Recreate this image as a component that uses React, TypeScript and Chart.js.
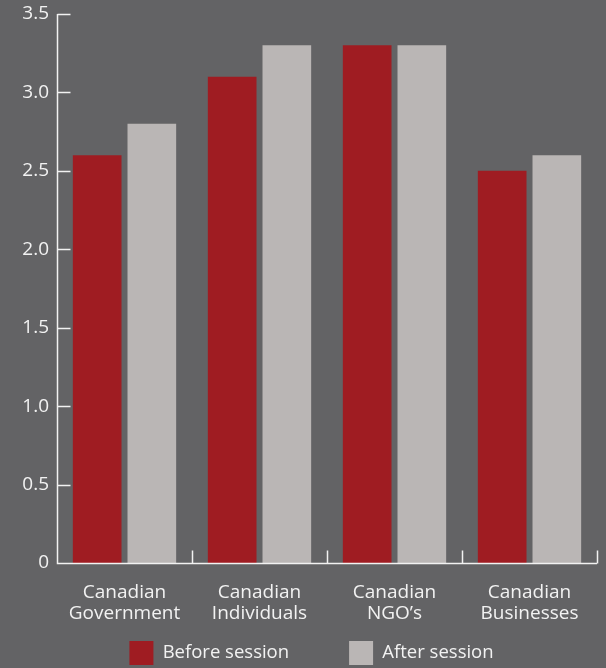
import React, { useEffect, useRef } from "react";
import { Chart, registerables } from "chart.js";

Chart.register(...registerables);

const categories: string[][] = [
  ["Canadian", "Government"],
  ["Canadian", "Individuals"],
  ["Canadian", "NGO’s"],
  ["Canadian", "Businesses"],
];
const beforeSession = [2.6, 3.1, 3.3, 2.5];
const afterSession = [2.8, 3.3, 3.3, 2.6];
const yTicks = [0, 0.5, 1.0, 1.5, 2.0, 2.5, 3.0, 3.5];

const BG = "#636365";
const RED = "#9f1c22";
const GRAY = "#bab6b5";
const WHITE = "#f2f2f2";
const FONT = "'Open Sans', sans-serif";

const axesPlugin = {
  id: "customAxes",
  afterLayout(chart: any) {
    const lg = chart.legend;
    if (lg) {
      lg.left += 13;
      lg.right += 13;
    }
  },
  afterDatasetsDraw(chart: any) {
    const { ctx, chartArea, scales } = chart;
    const x = scales.x;
    const y = scales.y;
    ctx.save();
    ctx.strokeStyle = WHITE;
    ctx.lineWidth = 1.5;
    const left = Math.round(chartArea.left) + 0.5;
    const bottom = Math.round(y.getPixelForValue(0)) + 0.5;
    const top = y.getPixelForValue(3.5);
    ctx.beginPath();
    ctx.moveTo(left, top);
    ctx.lineTo(left, bottom);
    const step = x.getPixelForValue(1) - x.getPixelForValue(0);
    const right = x.getPixelForValue(categories.length - 1) + step / 2;
    ctx.lineTo(right, bottom);
    ctx.stroke();
    ctx.beginPath();
    yTicks.forEach((v) => {
      const py = Math.round(y.getPixelForValue(v)) + 0.5;
      if (v === 0) return;
      ctx.moveTo(left, py);
      ctx.lineTo(left + 13, py);
    });
    for (let i = 0; i < categories.length; i++) {
      const px = Math.round(x.getPixelForValue(i) + step / 2) + 0.5;
      ctx.moveTo(px, bottom);
      ctx.lineTo(px, bottom - 13);
    }
    ctx.stroke();
    ctx.restore();
  },
};

export default function App() {
  const ref = useRef<HTMLCanvasElement>(null);
  useEffect(() => {
    document.body.style.margin = "0";
    document.body.style.background = BG;
    const chart = new Chart(ref.current!, {
      type: "bar",
      data: {
        labels: categories,
        datasets: [
          {
            label: "Before session",
            data: beforeSession,
            backgroundColor: RED,
            categoryPercentage: 0.81,
            barPercentage: 0.89,
          },
          {
            label: "After session",
            data: afterSession,
            backgroundColor: GRAY,
            categoryPercentage: 0.81,
            barPercentage: 0.89,
          },
        ],
      },
      options: {
        animation: false,
        responsive: false,
        maintainAspectRatio: false,
        layout: { padding: { top: 14, right: 9, left: 0, bottom: -7 } },
        plugins: {
          tooltip: { enabled: false },
          legend: {
            position: "bottom",
            labels: {
              color: WHITE,
              boxWidth: 24,
              boxHeight: 24,
              padding: 60,
              font: { family: FONT, size: 18.5 },
            },
          },
        },
        scales: {
          x: {
            grid: { display: false, drawTicks: false },
            border: { display: false },
            ticks: {
              color: WHITE,
              font: { family: FONT, size: 19, lineHeight: 1.1 },
              padding: 19,
              maxRotation: 0,
              autoSkip: false,
            },
            afterFit: (s: any) => {
              s.height = 18;
              s.paddingLeft = 0;
              s.paddingRight = 0;
              s._computeLabelArea = () => undefined;
            },
          },
          y: {
            min: 0,
            max: 3.5,
            grid: { display: false, drawTicks: false },
            border: { display: false },
            afterBuildTicks: (s: any) => {
              s.ticks = yTicks.map((v) => ({ value: v }));
            },
            ticks: {
              color: WHITE,
              font: { family: FONT, size: 19 },
              padding: 8,
              callback: (v: any) => (Number(v) === 0 ? "0" : Number(v).toFixed(1)),
            },
            afterFit: (s: any) => {
              s.width = 57;
              s.paddingTop = 0;
              s.paddingBottom = 0;
            },
          },
        },
      },
      plugins: [axesPlugin],
    });
    return () => chart.destroy();
  }, []);
  return (
    <div style={{ width: 606, height: 668, background: BG }}>
      <canvas ref={ref} width={606} height={668} style={{ display: "block" }} />
    </div>
  );
}
